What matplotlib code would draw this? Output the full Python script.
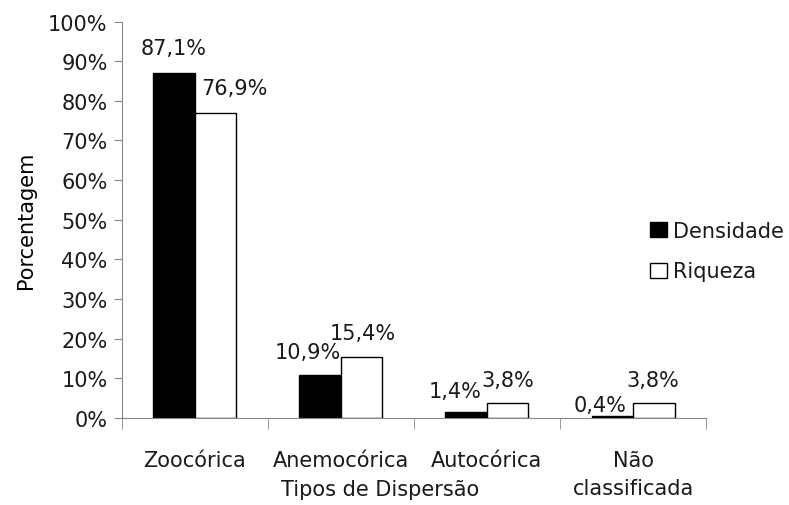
import numpy as np
import matplotlib.pyplot as plt

categorias = ["Zoocórica", "Anemocórica", "Autocórica", "Não\nclassificada"]
densidade = [87.1, 10.9, 1.4, 0.4]
riqueza = [76.9, 15.4, 3.8, 3.8]

# deslocamento dos rótulos (pontos) para não sobrepor
off_dens = [(0, 18), (-9, 16), (-8, 15), (-9, 8)]
off_riq = [(14, 18), (1, 17), (0, 16), (-1, 16)]

plt.rcParams["font.family"] = "DejaVu Sans"
plt.rcParams["font.size"] = 15
plt.rcParams["text.color"] = "#1a1a1a"
plt.rcParams["xtick.labelcolor"] = "#1a1a1a"
plt.rcParams["ytick.labelcolor"] = "#1a1a1a"

fig = plt.figure(figsize=(7.89, 5.06), dpi=100)
ax = fig.add_axes([0.154, 0.1725, 0.741, 0.7827])

x = np.arange(len(categorias))
w = 0.284
b1 = ax.bar(x - w / 2, densidade, w, color="black", edgecolor="black", linewidth=1, label="Densidade")
b2 = ax.bar(x + w / 2, riqueza, w, color="white", edgecolor="black", linewidth=1, label="Riqueza")

for rect, v, off in zip(b1, densidade, off_dens):
    ax.annotate(f"{v:.1f}%".replace(".", ","), (rect.get_x() + rect.get_width() / 2, v),
                xytext=off, textcoords="offset points", ha="center", va="center")
for rect, v, off in zip(b2, riqueza, off_riq):
    ax.annotate(f"{v:.1f}%".replace(".", ","), (rect.get_x() + rect.get_width() / 2, v),
                xytext=off, textcoords="offset points", ha="center", va="center")

ax.set_xlim(-0.5, len(categorias) - 0.5)
ax.set_ylim(0, 100)
ax.set_yticks(np.arange(0, 101, 10))
ax.set_yticklabels([f"{t}%" for t in range(0, 101, 10)])
ax.set_xticks(x)
ax.set_xticklabels(categorias, linespacing=1.5)
ax.set_xticks(np.arange(-0.5, len(categorias), 1), minor=True)
ax.tick_params(axis="x", which="major", length=0, pad=23)
ax.tick_params(axis="x", which="minor", length=8, color="#888888", direction="out")
ax.tick_params(axis="y", length=6, color="#888888", pad=4)

for s in ["top", "right"]:
    ax.spines[s].set_visible(False)
for s in ["left", "bottom"]:
    ax.spines[s].set_color("#888888")

ax.set_ylabel("Porcentagem", labelpad=9)
fig.text(380 / 789, 1 - 490 / 506, "Tipos de Dispersão", ha="center", va="center")

fig.legend(handles=[b1, b2], loc="center left", bbox_to_anchor=(640 / 789, 1 - 252 / 506),
           frameon=False, handlelength=0.8, handleheight=0.75, handletextpad=0.3,
           labelspacing=1.0, borderpad=0)

fig.savefig("out.png", dpi=100)
